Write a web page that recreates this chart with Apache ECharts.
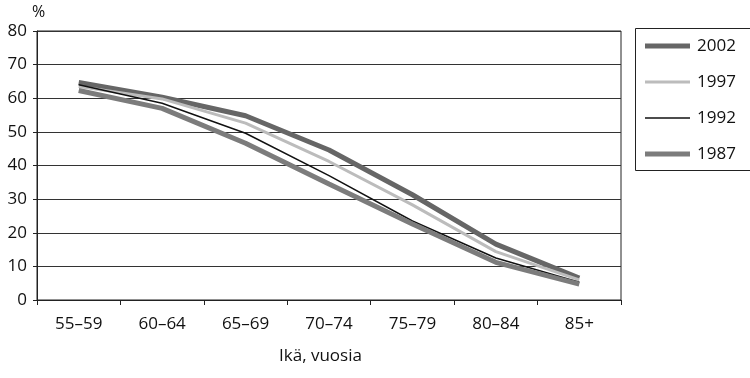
<!DOCTYPE html>
<html><head><meta charset="utf-8">
<script src="https://cdn.jsdelivr.net/npm/echarts@6/dist/echarts.min.js"></script>
<style>html,body{margin:0;padding:0;background:#fff}#c{width:750px;height:378px}</style>
</head><body><div id="c"></div>
<script>
const categories = ['55–59','60–64','65–69','70–74','75–79','80–84','85+'];
const s2002 = [64.7, 60.3, 54.8, 44.6, 31.3, 16.6, 6.5];
const s1997 = [63.5, 59.8, 52.6, 41.2, 28.3, 14.4, 6.0];
const s1992 = [64.0, 58.5, 49.6, 37.0, 23.5, 12.5, 5.3];
const s1987 = [62.3, 57.0, 46.6, 34.5, 22.6, 11.2, 4.7];
const yTicks = [0,10,20,30,40,50,60,70,80];
const legendNames = ['2002','1997','1992','1987'];
const FONT = '"Open Sans",sans-serif';
const styles = {
  '2002': {color:'#666666', width:5},
  '1997': {color:'#bcbcbc', width:3},
  '1992': {color:'#111111', width:1.5},
  '1987': {color:'#7c7c7c', width:5}
};
const chart = echarts.init(document.getElementById('c'));
const seriesData = {'2002':s2002,'1997':s1997,'1992':s1992,'1987':s1987};
const series = legendNames.map(n => ({name:n, type:'line', data:seriesData[n], symbol:'none',
  lineStyle:{color:styles[n].color, width:styles[n].width}, itemStyle:{color:styles[n].color}}));
const graphic = [
  {type:'text', left:32, top:4, style:{text:'%', fontSize:16, fontFamily:FONT, fill:'#111'}},
  {type:'text', left:279, top:348, style:{text:'Ikä, vuosia', fontSize:17, fontFamily:FONT, fill:'#111'}},
  {type:'rect', shape:{x:635.5, y:28.5, width:120, height:142}, style:{fill:'none', stroke:'#222', lineWidth:1}}
];
legendNames.forEach((n,i) => {
  const y = 46 + i*36;
  graphic.push({type:'line', shape:{x1:645, y1:y, x2:690, y2:y}, style:{stroke:styles[n].color, lineWidth:styles[n].width}});
  graphic.push({type:'text', x:697, y:y, style:{text:n, fontSize:17, fontFamily:FONT, fill:'#111', verticalAlign:'middle'}});
});
chart.setOption({
  animation:false,
  backgroundColor:'#fff',
  grid:{left:37, right:129, top:31, bottom:78, show:true, borderColor:'#222', borderWidth:1},
  xAxis:{type:'category', data:categories, boundaryGap:true,
    axisLine:{lineStyle:{color:'#222', width:1}},
    axisTick:{show:true, length:5, lineStyle:{color:'#222'}},
    axisLabel:{color:'#111', fontSize:17, fontFamily:FONT, margin:16}},
  yAxis:{type:'value', min:yTicks[0], max:yTicks[yTicks.length-1], interval:10,
    axisLine:{show:true, lineStyle:{color:'#222', width:1}},
    axisTick:{show:true, length:4, lineStyle:{color:'#222'}},
    splitLine:{lineStyle:{color:'#333', width:1}},
    axisLabel:{color:'#111', fontSize:17, fontFamily:FONT, margin:10}},
  graphic,
  series
});
</script></body></html>
